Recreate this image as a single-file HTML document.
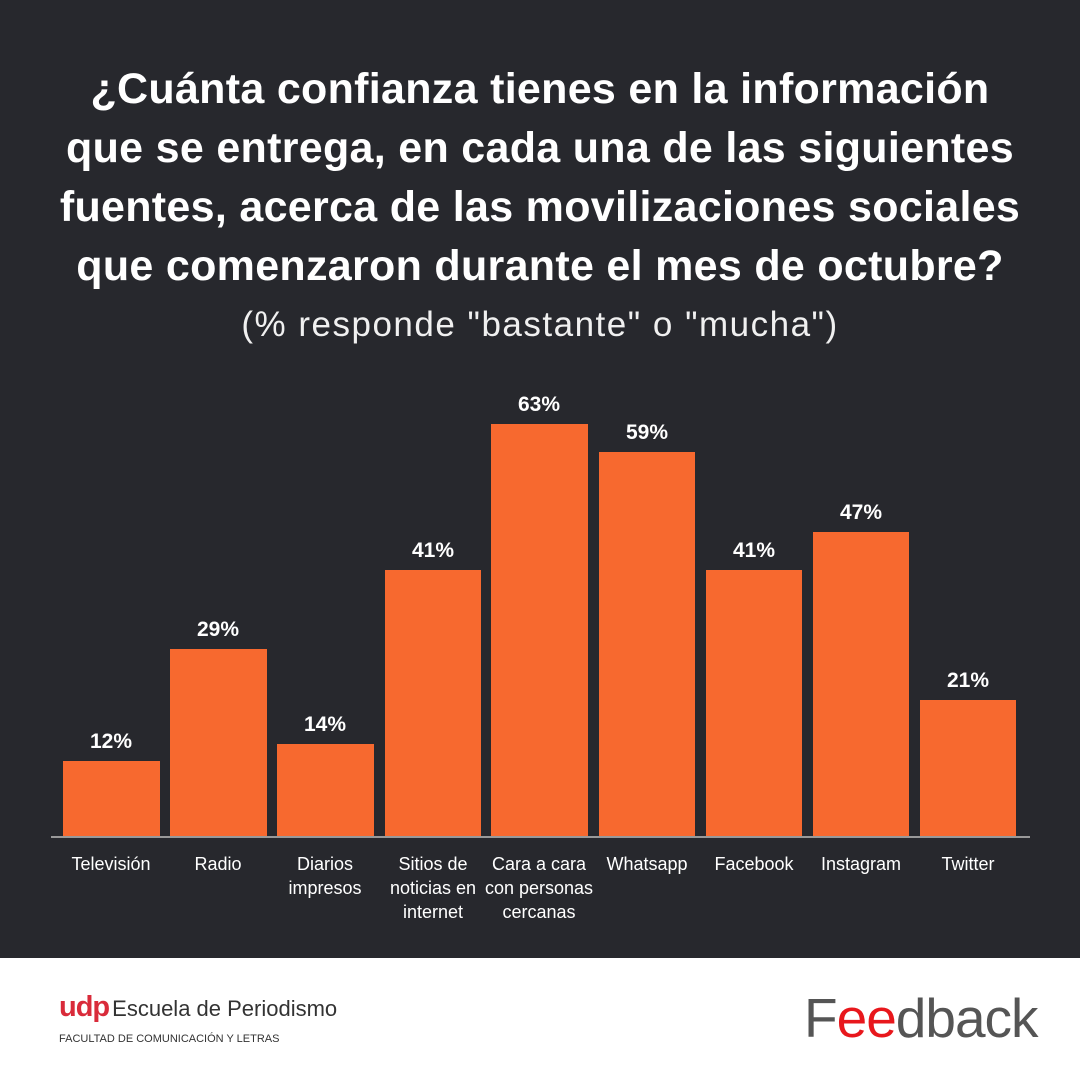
<!DOCTYPE html>
<html><head><meta charset="utf-8"><style>
body{margin:0;width:1080px;height:1080px;background:#fff;font-family:"Liberation Sans",sans-serif;overflow:hidden}
#dark{position:absolute;left:0;top:0;width:1080px;height:958px;background:#27282d}
.t{position:absolute;left:0;width:1080px;text-align:center;color:#fff;white-space:nowrap}
.bar{position:absolute;background:#f7692f}
.v{position:absolute;width:120px;text-align:center;color:#fff;font-weight:bold;font-size:21px}
.l{position:absolute;width:120px;text-align:center;color:#fff;font-size:18px;line-height:24px;top:852px}
</style></head><body>
<div id="dark"></div>
<div class="t" style="top:60px;font-size:43px;line-height:59px;font-weight:bold;letter-spacing:0.3px">¿Cuánta confianza tienes en la información<br>que se entrega, en cada una de las siguientes<br>fuentes, acerca de las movilizaciones sociales<br>que comenzaron durante el mes de octubre?</div>
<div class="t" style="top:305px;font-size:35px;color:#f0f0f0;letter-spacing:1.5px">(% responde "bastante" o "mucha")</div>
<div style="position:absolute;left:51px;top:836px;width:979px;height:2px;background:#999"></div>
<div class="bar" style="left:63px;top:761px;width:97px;height:75px"></div>
<div class="bar" style="left:170px;top:649px;width:97px;height:187px"></div>
<div class="bar" style="left:277px;top:744px;width:97px;height:92px"></div>
<div class="bar" style="left:385px;top:570px;width:96px;height:266px"></div>
<div class="bar" style="left:491px;top:424px;width:97px;height:412px"></div>
<div class="bar" style="left:599px;top:452px;width:96px;height:384px"></div>
<div class="bar" style="left:706px;top:570px;width:96px;height:266px"></div>
<div class="bar" style="left:813px;top:532px;width:96px;height:304px"></div>
<div class="bar" style="left:920px;top:700px;width:96px;height:136px"></div>
<div class="v" style="left:51px;top:730px">12%</div>
<div class="v" style="left:158px;top:618px">29%</div>
<div class="v" style="left:265px;top:713px">14%</div>
<div class="v" style="left:373px;top:539px">41%</div>
<div class="v" style="left:479px;top:393px">63%</div>
<div class="v" style="left:587px;top:421px">59%</div>
<div class="v" style="left:694px;top:539px">41%</div>
<div class="v" style="left:801px;top:501px">47%</div>
<div class="v" style="left:908px;top:669px">21%</div>
<div class="l" style="left:51px">Televisión</div>
<div class="l" style="left:158px">Radio</div>
<div class="l" style="left:265px">Diarios<br>impresos</div>
<div class="l" style="left:373px">Sitios de<br>noticias en<br>internet</div>
<div class="l" style="left:472px;width:134px">Cara a cara<br>con personas<br>cercanas</div>
<div class="l" style="left:587px">Whatsapp</div>
<div class="l" style="left:694px">Facebook</div>
<div class="l" style="left:801px">Instagram</div>
<div class="l" style="left:908px">Twitter</div>
<div style="position:absolute;left:59px;top:990px;font-size:29px;line-height:34px;font-weight:bold;color:#d92b3a;letter-spacing:-1px">udp<span style="font-weight:normal;color:#333;font-size:22px;letter-spacing:0;margin-left:3px">Escuela de Periodismo</span></div>
<div style="position:absolute;left:59px;top:1033px;font-size:11px;color:#333">FACULTAD DE COMUNICACIÓN Y LETRAS</div>
<div style="position:absolute;left:804px;top:990px;font-size:55px;line-height:56px;color:#555;letter-spacing:-1px">F<span style="color:#e8171c">ee</span>dback</div>
</body></html>
